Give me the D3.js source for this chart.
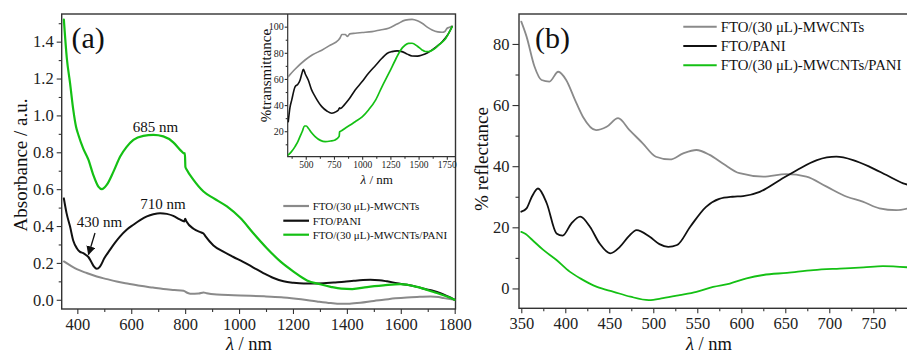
<!DOCTYPE html>
<html><head><meta charset="utf-8">
<script src="https://cdn.jsdelivr.net/npm/d3@7"></script>
<style>
html,body{margin:0;padding:0;background:#fff;overflow:hidden}
svg{display:block;font-family:"Liberation Serif","Times New Roman",serif}
</style></head><body>
<svg id="chart" width="907" height="354"></svg>
<script>
// ---------- Panel (a): absorbance ----------
const absGrayX  = [350,375,398,435,472,510,546,590,633,680,719,760,794,808,819,850,868,880,918,980,1042,1100,1165,1230,1289,1340,1376,1410,1450,1500,1536,1580,1623,1670,1710,1740,1760,1800];
const absGrayY  = [0.208,0.185,0.166,0.145,0.126,0.112,0.099,0.087,0.076,0.066,0.058,0.053,0.049,0.038,0.033,0.034,0.040,0.035,0.028,0.025,0.022,0.018,0.013,0.003,-0.009,-0.018,-0.022,-0.021,-0.016,-0.006,0.000,0.008,0.013,0.016,0.018,0.015,0.009,0.000];
const absBlackX = [350,360,373,385,398,410,422,432,441,452,462,472,484,500,521,540,558,583,608,633,658,682,707,732,756,780,797,800,805,831,860,868,875,905,940,979,1015,1053,1090,1128,1165,1202,1240,1277,1314,1351,1390,1425,1460,1487,1520,1549,1586,1623,1660,1697,1722,1747,1775,1800];
const absBlackY = [0.55,0.47,0.397,0.32,0.28,0.26,0.253,0.243,0.232,0.205,0.18,0.168,0.18,0.225,0.271,0.31,0.343,0.38,0.407,0.432,0.452,0.464,0.47,0.466,0.455,0.436,0.425,0.44,0.425,0.385,0.365,0.36,0.345,0.295,0.262,0.232,0.205,0.175,0.145,0.118,0.10,0.092,0.088,0.088,0.09,0.094,0.098,0.103,0.107,0.108,0.106,0.10,0.09,0.081,0.07,0.056,0.048,0.036,0.018,0.0];
const absGreenX = [350,361,373,385,395,404,422,441,459,478,491,509,534,559,583,608,645,682,719,756,787,797,799,801,806,831,868,905,955,1005,1053,1103,1153,1202,1252,1301,1340,1380,1420,1475,1536,1598,1660,1722,1771,1800];
const absGreenY = [1.52,1.31,1.175,1.03,0.94,0.894,0.82,0.76,0.678,0.614,0.60,0.623,0.695,0.777,0.829,0.867,0.889,0.894,0.886,0.854,0.805,0.793,0.795,0.72,0.705,0.65,0.587,0.551,0.506,0.443,0.361,0.28,0.208,0.153,0.105,0.084,0.07,0.06,0.058,0.069,0.078,0.085,0.07,0.042,0.018,0.0];
const absXTicks = [400,600,800,1000,1200,1400,1600,1800];
const absYTicks = [0.0,0.2,0.4,0.6,0.8,1.0,1.2,1.4];

// ---------- Inset: transmittance ----------
const trGrayX  = [345,400,494,560,642,720,790,805,820,850,870,890,938,1000,1087,1160,1234,1310,1382,1442,1490,1531,1580,1620,1670,1709,1735,1753,1775,1797];
const trGrayY  = [61.8,67,74.5,78.5,82,86,89.8,91.5,94,94,92.5,94.5,95,95.5,96.2,97.5,98.8,102,105,105.6,104.5,102.6,99.5,97.5,96,95.7,96.5,98.8,99.5,100.5];
const trBlackX = [345,360,376,405,430,449,465,479,495,523,550,583,642,690,731,770,790,800,810,840,879,938,1000,1056,1120,1175,1220,1264,1310,1353,1400,1442,1490,1531,1580,1620,1670,1709,1760,1797];
const trBlackY = [27.3,38,44,54,56,59,64,67.4,64,59,52,46.5,38.8,35.3,33.8,35,36.3,38,37.5,40,44,51.6,58,64.4,70.5,75.8,79.5,80.9,81.5,80.9,79,77.6,77.5,78.3,80,82.2,85.5,88.5,94,100];
const trGreenX = [345,370,405,430,449,470,488,505,523,550,583,630,672,720,760,796,800,820,849,890,938,1000,1056,1120,1175,1240,1294,1340,1382,1410,1442,1490,1531,1560,1590,1640,1679,1740,1797];
const trGreenY = [1.9,4,8.2,12,15.9,20,24,24,22.3,19,15.9,13,12,12.5,13.3,16,19.5,20.5,22.3,24.5,27.3,31,36.3,44,54,65,74.5,82,86,87.2,87.3,85,82.2,81,80.9,83,86,91,100];
const trXTicks = [500,750,1000,1250,1500,1750];
const trYTicks = [20,40,60,80,100];

// ---------- Panel (b): reflectance ----------
const refGrayX  = [350,356,365,373,382,392,401,411,420,435,447,460,473,488,503,519,534,549,564,579,598,625,651,674,697,720,738,757,776,794];
const refGrayY  = [87.3,82.4,72.6,68.2,67.7,70.9,68.2,61.7,56.2,51.8,52.9,55.7,51.8,47.5,43.1,42.2,44.2,45.3,43.7,40.9,37.7,36.6,37.4,36.6,33.3,30,28.4,26.2,25.6,26.5];
const refBlackX = [350,356,362,369,379,390,397,407,417,428,439,451,462,472,481,496,507,517,527,542,560,575,590,602,621,644,663,686,708,727,746,765,784,794];
const refBlackY = [25.1,26.2,30,32.7,27.8,18,17.3,21.3,23.5,20.2,14.7,11.5,13.6,17,19.1,16.9,14.5,13.6,14.2,20.2,26.7,29.3,30,30.2,31.6,35.5,38.7,42,43.1,42,39.8,37.1,34.4,33.6];
const refGreenX = [350,355,362,375,390,405,417,436,455,474,495,511,530,549,568,587,606,625,652,682,712,739,761,794];
const refGreenY = [18.5,17.8,16,12.6,9.3,5.5,3.3,0.5,-1.1,-2.7,-3.8,-3.2,-2.2,-1.1,0.5,1.6,3.3,4.4,5.1,6,6.5,6.9,7.3,6.8];
const refXTicks = [350,400,450,500,550,600,650,700,750];
const refYTicks = [0,20,40,60,80];

const seriesNames = ["FTO/(30 \u03bcL)-MWCNTs","FTO/PANI","FTO/(30 \u03bcL)-MWCNTs/PANI"];
const seriesColors = ["#8a8a8a","#111111","#14c014"];

const svg = d3.select("#chart");
const axisColor = "#333";

function zip(xs, ys){ return xs.map((x,i)=>[x, ys[i]]); }

function drawAxis(g, gen, fontSize){
  g.call(gen);
  g.select(".domain").remove();
  g.selectAll("line").attr("stroke", axisColor).attr("stroke-width", 1.1);
  g.selectAll("text").attr("fill", "#222").style("font-size", fontSize + "px")
    .style("font-family", '"Liberation Serif","Times New Roman",serif');
}
function minorTicks(arr0, step, lo, hi){
  const out=[]; for(let v=arr0; v<=hi+1e-9; v+=step){ if(v>=lo-1e-9) out.push(+v.toFixed(6)); } return out;
}
function addClip(id, x0, y0, x1, y1){
  svg.append("clipPath").attr("id", id).append("rect")
    .attr("x", x0).attr("y", y0).attr("width", x1-x0).attr("height", y1-y0);
}
function drawLine(x, y, data, color, width, clip){
  svg.append("path").datum(data)
    .attr("fill","none").attr("stroke", color).attr("stroke-width", width)
    .attr("stroke-linejoin","round").attr("stroke-linecap","round")
    .attr("clip-path", `url(#${clip})`)
    .attr("d", d3.line().x(d=>x(d[0])).y(d=>y(d[1])).curve(d3.curveMonotoneX));
}

// ===== Panel (a) =====
const aL=61.7, aR=455.5, aT=14, aB=309;
const xa = d3.scaleLinear().domain([342,1803]).range([aL,aR]);
const ya = d3.scaleLinear().domain([-0.05,1.55]).range([aB,aT]);
addClip("clipA", aL, aT, aR, aB);

drawAxis(svg.append("g").attr("transform",`translate(0,${aB})`),
  d3.axisBottom(xa).tickValues(absXTicks).tickSize(5).tickPadding(4).tickFormat(d3.format("d")), 16.5);
drawAxis(svg.append("g").attr("transform",`translate(0,${aB})`),
  d3.axisBottom(xa).tickValues(minorTicks(500,200,350,1800)).tickSize(3).tickFormat(""), 16.5);
drawAxis(svg.append("g").attr("transform",`translate(${aL},0)`),
  d3.axisLeft(ya).tickValues(absYTicks).tickSize(5).tickPadding(3).tickFormat(d3.format(".1f")), 16.5);
drawAxis(svg.append("g").attr("transform",`translate(${aL},0)`),
  d3.axisLeft(ya).tickValues(minorTicks(0.1,0.2,-0.05,1.55)).tickSize(3).tickFormat(""), 16.5);

svg.append("rect").attr("x",aL).attr("y",aT).attr("width",aR-aL).attr("height",aB-aT)
  .attr("fill","none").attr("stroke",axisColor).attr("stroke-width",1.4);

drawLine(xa, ya, zip(absGrayX, absGrayY), seriesColors[0], 2, "clipA");
drawLine(xa, ya, zip(absBlackX, absBlackY), seriesColors[1], 2, "clipA");
drawLine(xa, ya, zip(absGreenX, absGreenY), seriesColors[2], 2.2, "clipA");

svg.append("text").attr("x", 71.5).attr("y", 48).style("font-size","30px").attr("fill","#111").text("(a)");
svg.append("text").attr("transform","translate(27,165) rotate(-90)").attr("text-anchor","middle")
  .style("font-size","19px").attr("fill","#111").text("Absorbance / a.u.");
const xt = svg.append("text").attr("x", 249).attr("y", 350).attr("text-anchor","middle")
  .style("font-size","18.5px").attr("fill","#111");
xt.append("tspan").style("font-style","italic").text("\u03bb");
xt.append("tspan").text(" / nm");

// annotations
svg.append("text").attr("x",155.5).attr("y",132).attr("text-anchor","middle").style("font-size","15px").attr("fill","#111").text("685 nm");
svg.append("text").attr("x",163).attr("y",208.5).attr("text-anchor","middle").style("font-size","15px").attr("fill","#111").text("710 nm");
svg.append("text").attr("x",99.5).attr("y",227).attr("text-anchor","middle").style("font-size","15px").attr("fill","#111").text("430 nm");
svg.append("defs").append("marker").attr("id","arrowHead").attr("viewBox","0 0 10 10")
  .attr("refX",9).attr("refY",5).attr("markerWidth",7).attr("markerHeight",7).attr("orient","auto")
  .append("path").attr("d","M0,0 L10,5 L0,10 z").attr("fill","#111");
svg.append("line").attr("x1",95).attr("y1",233).attr("x2",88.5).attr("y2",254.5)
  .attr("stroke","#111").attr("stroke-width",1.3).attr("marker-end","url(#arrowHead)");

// legend (a)
const legA = [206, 220.7, 234.7];
seriesNames.forEach((n,i)=>{
  svg.append("line").attr("x1",283.3).attr("x2",309).attr("y1",legA[i]).attr("y2",legA[i])
    .attr("stroke",seriesColors[i]).attr("stroke-width",2.2);
  svg.append("text").attr("x",312.7).attr("y",legA[i]+3.8).style("font-size","11px").attr("fill","#111").text(n);
});

// ===== Inset =====
const iL=287.7, iR=455.5, iT=14, iB=156.7;
const xi = d3.scaleLinear().domain([340,1827]).range([iL,iR]);
const yi = d3.scaleLinear().domain([0.5,109.7]).range([iB,iT]);
addClip("clipI", iL, iT, iR, iB);
drawAxis(svg.append("g").attr("transform",`translate(0,${iB})`),
  d3.axisBottom(xi).tickValues(trXTicks).tickSize(3).tickPadding(2).tickFormat(d3.format("d")), 9.5);
drawAxis(svg.append("g").attr("transform",`translate(0,${iB})`),
  d3.axisBottom(xi).tickValues(minorTicks(375,250,345,1800)).tickSize(2).tickFormat(""), 9.5);
drawAxis(svg.append("g").attr("transform",`translate(${iL},0)`),
  d3.axisLeft(yi).tickValues(trYTicks).tickSize(3).tickPadding(1).tickFormat(d3.format("d")), 10);
drawAxis(svg.append("g").attr("transform",`translate(${iL},0)`),
  d3.axisLeft(yi).tickValues([10,30,50,70,90]).tickSize(2).tickFormat(""), 10);
svg.append("path").attr("d",`M${iL},${iT}V${iB}H${iR}`).attr("fill","none").attr("stroke",axisColor).attr("stroke-width",1.2);
drawLine(xi, yi, zip(trGrayX, trGrayY), seriesColors[0], 1.6, "clipI");
drawLine(xi, yi, zip(trBlackX, trBlackY), seriesColors[1], 1.6, "clipI");
drawLine(xi, yi, zip(trGreenX, trGreenY), seriesColors[2], 1.7, "clipI");
svg.append("text").attr("transform","translate(270.5,75.5) rotate(-90)").attr("text-anchor","middle")
  .style("font-size","15px").attr("fill","#111").text("%transmittance");
const xti = svg.append("text").attr("x", 376.7).attr("y", 183.5).attr("text-anchor","middle")
  .style("font-size","13px").attr("fill","#111");
xti.append("tspan").style("font-style","italic").text("\u03bb");
xti.append("tspan").text(" / nm");

// ===== Panel (b) =====
const bL=519, bR=912, bT=14, bB=308.3;
const xb = d3.scaleLinear().domain([347.4,794]).range([bL,bR]);
const yb = d3.scaleLinear().domain([-6.5,89.8]).range([bB,bT]);
addClip("clipB", bL, bT, bR, bB);
drawAxis(svg.append("g").attr("transform",`translate(0,${bB})`),
  d3.axisBottom(xb).tickValues(refXTicks).tickSize(5).tickPadding(4).tickFormat(d3.format("d")), 16.5);
drawAxis(svg.append("g").attr("transform",`translate(0,${bB})`),
  d3.axisBottom(xb).tickValues(minorTicks(375,50,350,790)).tickSize(3).tickFormat(""), 16.5);
drawAxis(svg.append("g").attr("transform",`translate(${bL},0)`),
  d3.axisLeft(yb).tickValues(refYTicks).tickSize(6.5).tickPadding(3).tickFormat(d3.format("d")), 16.5);
drawAxis(svg.append("g").attr("transform",`translate(${bL},0)`),
  d3.axisLeft(yb).tickValues([10,30,50,70]).tickSize(3.5).tickFormat(""), 16.5);
svg.append("rect").attr("x",bL).attr("y",bT).attr("width",bR-bL).attr("height",bB-bT)
  .attr("fill","none").attr("stroke",axisColor).attr("stroke-width",1.4);

drawLine(xb, yb, zip(refGrayX, refGrayY), seriesColors[0], 1.8, "clipB");
drawLine(xb, yb, zip(refBlackX, refBlackY), seriesColors[1], 1.8, "clipB");
drawLine(xb, yb, zip(refGreenX, refGreenY), seriesColors[2], 1.8, "clipB");

svg.append("text").attr("x", 535).attr("y", 48).style("font-size","30px").attr("fill","#111").text("(b)");
svg.append("text").attr("transform","translate(488,159) rotate(-90)").attr("text-anchor","middle")
  .style("font-size","19px").attr("fill","#111").text("% reflectance");
const xtb = svg.append("text").attr("x", 709).attr("y", 350).attr("text-anchor","middle")
  .style("font-size","18.5px").attr("fill","#111");
xtb.append("tspan").style("font-style","italic").text("\u03bb");
xtb.append("tspan").text(" / nm");

const legB = [26.7, 46, 65.3];
seriesNames.forEach((n,i)=>{
  svg.append("line").attr("x1",683.3).attr("x2",716.7).attr("y1",legB[i]).attr("y2",legB[i])
    .attr("stroke",seriesColors[i]).attr("stroke-width",2);
  svg.append("text").attr("x",720.7).attr("y",legB[i]+5).style("font-size","14.8px").attr("fill","#111").text(n);
});
</script>
</body></html>
